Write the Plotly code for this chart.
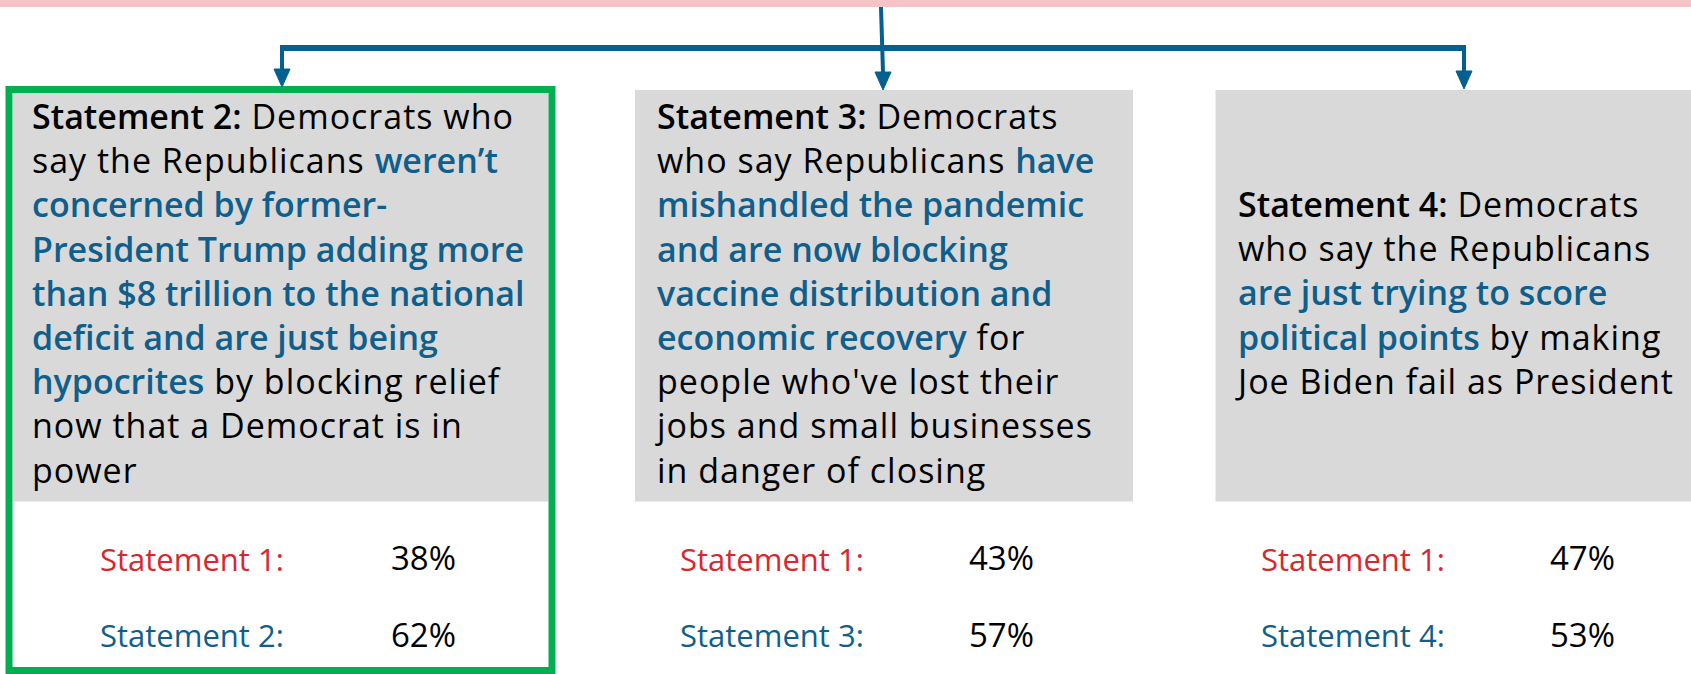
import plotly.graph_objects as go

# ---------------- data ----------------
base_label = "Statement 1:"
alt_labels = ["Statement 2:", "Statement 3:", "Statement 4:"]
pct_statement1 = [38, 43, 47]
pct_alternative = [62, 57, 53]

# each line = list of (segment, role); roles: lead / hl / txt
stmt2_lines = [
    [("Statement 2:", "lead"), (" Democrats who", "txt")],
    [("say the Republicans ", "txt"), ("weren\u2019t", "hl")],
    [("concerned by former-", "hl")],
    [("President Trump adding more", "hl")],
    [("than $8 trillion to the national", "hl")],
    [("deficit and are just being", "hl")],
    [("hypocrites", "hl"), (" by blocking relief", "txt")],
    [("now that a Democrat is in", "txt")],
    [("power", "txt")],
]
stmt3_lines = [
    [("Statement 3:", "lead"), (" Democrats", "txt")],
    [("who say Republicans ", "txt"), ("have", "hl")],
    [("mishandled the pandemic", "hl")],
    [("and are now blocking", "hl")],
    [("vaccine distribution and", "hl")],
    [("economic recovery", "hl"), (" for", "txt")],
    [("people who've lost their", "txt")],
    [("jobs and small businesses", "txt")],
    [("in danger of closing", "txt")],
]
stmt4_lines = [
    [("Statement 4:", "lead"), (" Democrats", "txt")],
    [("who say the Republicans", "txt")],
    [("are just trying to score", "hl")],
    [("political points", "hl"), (" by making", "txt")],
    [("Joe Biden fail as President", "txt")],
]
statements = [stmt2_lines, stmt3_lines, stmt4_lines]

# ---------------- style / layout ----------------
W, H = 1691, 674
FONT = "Open Sans"
BLUE = "#0f5f8c"
ARROW = "#03608f"
RED = "#d9272e"
GREEN = "#00b050"
GRAY = "#d9d9d9"
PINK = "#f5c4c6"

body_size = 34
body_pitch = 1.3 * body_size      # plotly multi-line spacing
first_baseline = 129.3
n_slots = 9
label_size = 31
value_size = 33
bottom_baselines = [570.7, 647.3]

box_x = [(13, 548.5), (635, 1133), (1215.5, 1691)]
box_top = [93, 90, 90]
gray_bottom = 501.5
text_x = [30, 653, 1233]
label_x = [98, 678, 1259]
value_x = [389, 967, 1548]

arrow_x = [282, 883, 1464]
arrow_tip = [87, 90, 89]
head_len, head_half = 18, 8
bar_y = 48


def seg_html(text, role):
    if role == "lead":
        return f'<span style="font-weight:600">{text}</span>'
    if role == "hl":
        return f'<span style="font-weight:600;color:{BLUE}">{text}</span>'
    return f'<span style="letter-spacing:1px">{text}</span>'


def center_from_baseline(b, size):
    return b - 0.388 * size


shapes = []
annotations = []

# pink band at top
shapes.append(dict(type="rect", x0=0, x1=W, y0=-2, y1=7, fillcolor=PINK, line=dict(width=0), layer="below"))

# gray boxes
for (x0, x1), top in zip(box_x, box_top):
    shapes.append(dict(type="rect", x0=x0, x1=x1, y0=top, y1=gray_bottom, fillcolor=GRAY, line=dict(width=0), layer="below"))

# green highlight frame around first box
shapes.append(dict(type="rect", x0=9, x1=552, y0=89.5, y1=670.5, fillcolor="rgba(0,0,0,0)", line=dict(color=GREEN, width=7)))

# connectors
shapes.append(dict(type="line", x0=881, x1=arrow_x[1], y0=7, y1=arrow_tip[1] - head_len + 1, line=dict(color=ARROW, width=4)))
shapes.append(dict(type="line", x0=arrow_x[0] - 2, x1=arrow_x[2] + 2, y0=bar_y, y1=bar_y, line=dict(color=ARROW, width=6)))
for ax, tip in [(arrow_x[0], arrow_tip[0]), (arrow_x[2], arrow_tip[2])]:
    shapes.append(dict(type="line", x0=ax, x1=ax, y0=bar_y, y1=tip - head_len + 1, line=dict(color=ARROW, width=4)))
for ax, tip in zip(arrow_x, arrow_tip):
    path = f"M {ax - head_half},{tip - head_len} L {ax + head_half},{tip - head_len} L {ax},{tip} Z"
    shapes.append(dict(type="path", path=path, fillcolor=ARROW, line=dict(color=ARROW, width=1)))

# statement texts (one multi-line annotation per box)
for lines, tx in zip(statements, text_x):
    offset = (n_slots - len(lines)) // 2
    b_first = first_baseline + offset * body_pitch
    b_last = b_first + (len(lines) - 1) * body_pitch
    html = "<br>".join("".join(seg_html(t, r) for t, r in line) for line in lines)
    annotations.append(dict(
        x=tx, y=center_from_baseline((b_first + b_last) / 2, body_size), text=html,
        xanchor="left", yanchor="middle", align="left", showarrow=False,
        font=dict(family=FONT, size=body_size, color="black"),
    ))

# percentages
for k in range(3):
    rows = [(base_label, RED, pct_statement1[k]), (alt_labels[k], BLUE, pct_alternative[k])]
    for (lab, col, val), b in zip(rows, bottom_baselines):
        annotations.append(dict(
            x=label_x[k], y=center_from_baseline(b, label_size), text=lab,
            xanchor="left", yanchor="middle", showarrow=False,
            font=dict(family=FONT, size=label_size, color=col),
        ))
        annotations.append(dict(
            x=value_x[k], y=center_from_baseline(b, value_size), text=f"{val}%",
            xanchor="left", yanchor="middle", showarrow=False,
            font=dict(family=FONT, size=value_size, color="black"),
        ))

fig = go.Figure()
fig.update_layout(
    width=W, height=H,
    margin=dict(l=0, r=0, t=0, b=0),
    paper_bgcolor="white", plot_bgcolor="white",
    xaxis=dict(range=[0, W], visible=False, fixedrange=True),
    yaxis=dict(range=[H, 0], visible=False, fixedrange=True),
    shapes=shapes, annotations=annotations,
    showlegend=False,
)
fig.write_html(
    "out.html",
    config={"displayModeBar": False},
    post_script="document.body.style.margin='0';document.body.style.overflow='hidden';",
)
